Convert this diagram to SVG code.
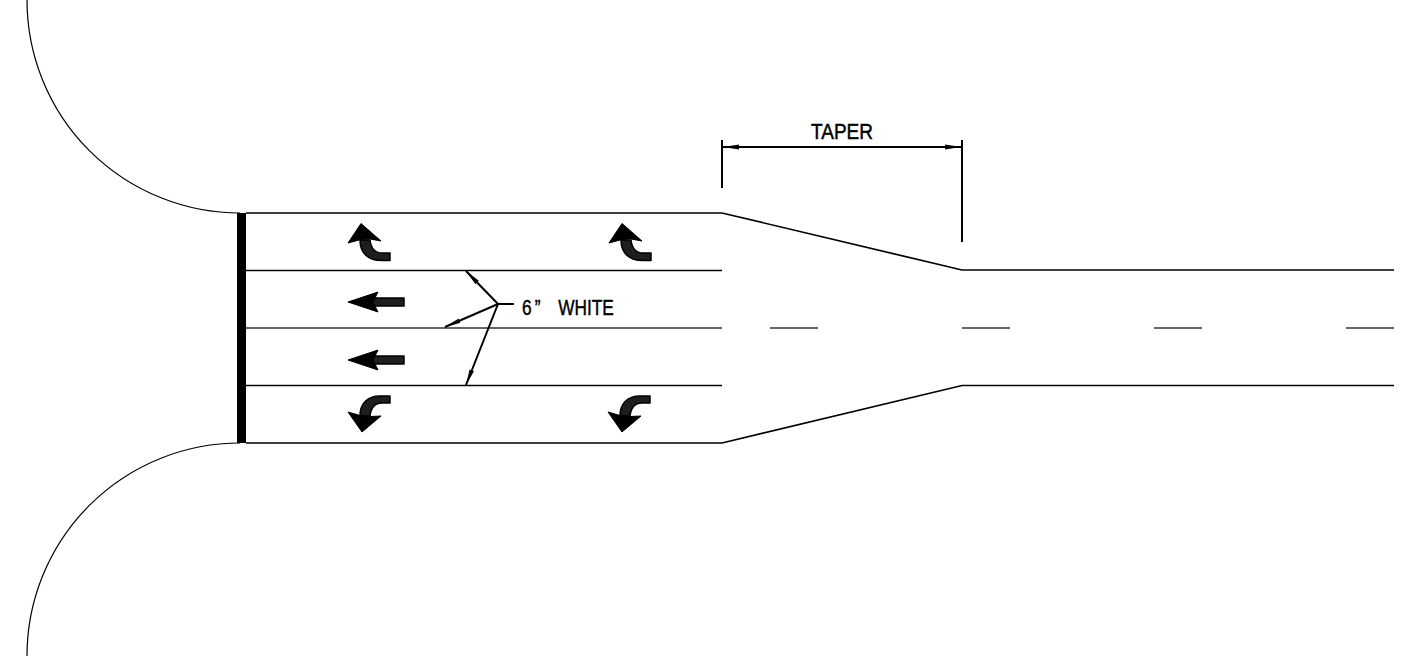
<svg xmlns="http://www.w3.org/2000/svg" width="1404" height="656" viewBox="0 0 1404 656">
<style>
.l{fill:none;stroke:#000;stroke-width:1.2}
.r{fill:none;stroke:#000;stroke-width:1.7}
.c{fill:none;stroke:#333;stroke-width:1.7}
.d{fill:none;stroke:#000;stroke-width:2}
.a{fill:#000;stroke:#000;stroke-width:1;stroke-linejoin:round}
.s{fill:#1e1e1e;stroke:#000;stroke-width:1.5;stroke-linejoin:round}
text{font-family:"Liberation Sans",Arial,sans-serif;font-size:21.600px;fill:#000;stroke:#000;stroke-width:.45}
</style>
<defs>
<marker id="h" markerUnits="userSpaceOnUse" markerWidth="18" markerHeight="8" refX="16" refY="3" orient="auto"><path d="M0,0.600L16,3L0,5.400Z" fill="#000"/></marker>
<marker id="hs" markerUnits="userSpaceOnUse" markerWidth="18" markerHeight="8" refX="16" refY="3" orient="auto-start-reverse"><path d="M0,0.600L16,3L0,5.400Z" fill="#000"/></marker>
<g id="upTurn"><path class="s" d="M360,240C360,253 368,260.500 382,260.500L390,260.500L390,253L382,253C375,253 371,248 370,240Z"/><path class="a" d="M361,223.500L348,243L361,239.500L370,239L381,241Z"/></g>
<g id="downTurn"><path class="s" d="M390,396L380,396C367,396 360,404 360,416L370,416C371,408 375,403 382,403L390,403Z"/><path class="a" d="M362,432L348,412L360,415.500L370,416.500L381,416Z"/></g>
<g id="thru"><path class="s" d="M372,-4H404V4H372Z"/><path class="a" d="M348,0L378,-10L373,0L378,10Z"/></g>
</defs>
<g id="road">
<path class="l" d="M27,0A213,213 0 0 0 240,213"/>
<path class="l" d="M27,656A213,213 0 0 1 240,443"/>
<path class="r" d="M246,213H722L962,270H1394"/>
<path class="r" d="M246,443H722L962,385.500H1394"/>
<path class="r" d="M246,270.500H722M246,385.500H722"/>
<path class="c" d="M246,328H722M770,328H818M962,328H1010M1154,328H1202M1346,328H1394"/>
<rect id="stopbar" x="237" y="213" width="9" height="230" fill="#000"/>
</g>
<g id="pavementArrows">
<use id="arrow1" href="#upTurn"/>
<use id="arrow2" href="#upTurn" x="261"/>
<use id="arrow3" href="#thru" y="302"/>
<use id="arrow4" href="#thru" y="360"/>
<use id="arrow5" href="#downTurn"/>
<use id="arrow6" href="#downTurn" x="260"/>
</g>
<g id="connectors">
<path class="d" d="M722,140V188M962,140V242"/>
<path class="d" d="M723,147H961" marker-start="url(#hs)" marker-end="url(#hs)"/>
<path class="d" d="M514,304H498"/>
<path class="d" d="M498,304L466,271" marker-end="url(#h)"/>
<path class="d" d="M498,304L445,327" marker-end="url(#h)"/>
<path class="d" d="M498,304L466,385" marker-end="url(#h)"/>
</g>
<g id="labels">
<text id="taper" x="811" y="139" textLength="62" lengthAdjust="spacingAndGlyphs">TAPER</text>
<text id="white" transform="translate(522,315) scale(.8,1)" word-spacing="16">6<tspan dx="4">”</tspan> WHITE</text>
</g>
</svg>
